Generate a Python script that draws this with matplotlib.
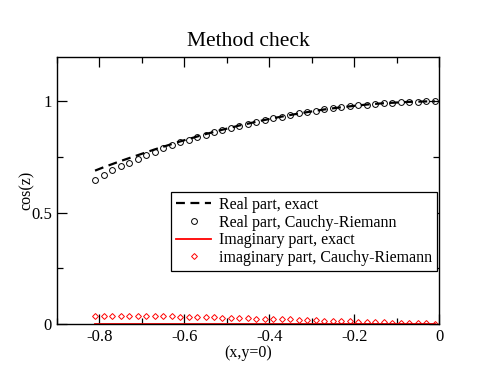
import matplotlib
matplotlib.use('Agg')
import matplotlib.pyplot as plt
import matplotlib.ticker as mticker

plt.rcParams['font.family'] = ['Liberation Serif', 'DejaVu Serif']

# --- DATA ---
x_pts = [-0.81, -0.79, -0.77, -0.75, -0.73, -0.71, -0.69, -0.67, -0.65, -0.63,
         -0.61, -0.59, -0.57, -0.55, -0.53, -0.51, -0.49, -0.47, -0.45, -0.43,
         -0.41, -0.39, -0.37, -0.35, -0.33, -0.31, -0.29, -0.27, -0.25, -0.23,
         -0.21, -0.19, -0.17, -0.15, -0.13, -0.11, -0.09, -0.07, -0.05, -0.03,
         -0.01]

real_exact = [0.689, 0.704, 0.718, 0.732, 0.745, 0.758, 0.771, 0.784, 0.796, 0.808,
              0.820, 0.831, 0.842, 0.853, 0.863, 0.873, 0.882, 0.892, 0.900, 0.909,
              0.917, 0.925, 0.932, 0.939, 0.946, 0.952, 0.958, 0.964, 0.969, 0.974,
              0.978, 0.982, 0.986, 0.989, 0.992, 0.994, 0.996, 0.998, 0.999, 1.000,
              1.000]

real_cr = [0.649, 0.668, 0.691, 0.709, 0.725, 0.741, 0.759, 0.774, 0.791, 0.803,
           0.816, 0.828, 0.839, 0.851, 0.861, 0.873, 0.880, 0.891, 0.898, 0.907,
           0.917, 0.925, 0.932, 0.939, 0.946, 0.952, 0.958, 0.964, 0.969, 0.974,
           0.978, 0.982, 0.986, 0.989, 0.992, 0.994, 0.996, 0.998, 0.999, 1.000,
           1.000]

imag_exact = [0.0] * len(x_pts)

imag_cr = [0.036, 0.036, 0.036, 0.036, 0.036, 0.035, 0.035, 0.035, 0.034, 0.034,
           0.033, 0.032, 0.031, 0.030, 0.029, 0.028, 0.027, 0.026, 0.025, 0.024,
           0.023, 0.022, 0.021, 0.020, 0.018, 0.017, 0.016, 0.015, 0.013, 0.012,
           0.011, 0.010, 0.009, 0.008, 0.007, 0.006, 0.005, 0.004, 0.003, 0.002,
           0.001]

fig = plt.figure(figsize=(4.94, 3.82), dpi=100)
ax = fig.add_axes([0.115, 0.152, 0.774, 0.699])

ax.plot(x_pts, real_exact, color='black', linestyle=(0, (4, 2.5)), linewidth=1.6,
        label='Real part, exact')
ax.plot(x_pts, real_cr, linestyle='none', marker='o', markersize=4.2,
        markerfacecolor='none', markeredgecolor='black', markeredgewidth=0.7,
        label='Real part, Cauchy-Riemann')
ax.plot(x_pts, imag_exact, color='red', linewidth=1.3, label='Imaginary part, exact')
ax.plot(x_pts, imag_cr, linestyle='none', marker='D', markersize=3,
        markerfacecolor='none', markeredgecolor='red', markeredgewidth=0.7,
        label='imaginary part, Cauchy-Riemann')

ax.set_xlim(-0.9, 0)
ax.set_ylim(0, 1.2)
ax.xaxis.set_major_locator(mticker.MultipleLocator(0.2))
ax.xaxis.set_minor_locator(mticker.MultipleLocator(0.1))
ax.yaxis.set_major_locator(mticker.FixedLocator([0, 0.5, 1]))
ax.yaxis.set_minor_locator(mticker.FixedLocator([0.25, 0.75]))
ax.xaxis.set_major_formatter(mticker.FuncFormatter(lambda v, p: '0' if abs(v) < 1e-9 else f'{v:g}'))
ax.yaxis.set_major_formatter(mticker.FuncFormatter(lambda v, p: '0' if abs(v) < 1e-9 else f'{v:g}'))
ax.tick_params(which='both', direction='in', top=True, right=True, labelsize=12, width=0.9)
ax.tick_params(which='major', length=7)
ax.tick_params(which='minor', length=4)
for s in ax.spines.values():
    s.set_linewidth(1.0)

ax.set_xlabel('(x,y=0)', fontsize=11.5, labelpad=0)
ax.set_ylabel('cos(z)', fontsize=11.5, labelpad=-3)
ax.set_title('Method check', fontsize=15.5, pad=8)

leg = ax.legend(loc='lower right', bbox_to_anchor=(0.995, 0.2), fontsize=11.5,
                frameon=True, fancybox=False, framealpha=1, edgecolor='black',
                borderpad=0.3, labelspacing=0.1, handlelength=2.2, handletextpad=0.5,
                borderaxespad=0.0)
leg.get_frame().set_linewidth(0.9)

plt.savefig('out.png', dpi=100)
